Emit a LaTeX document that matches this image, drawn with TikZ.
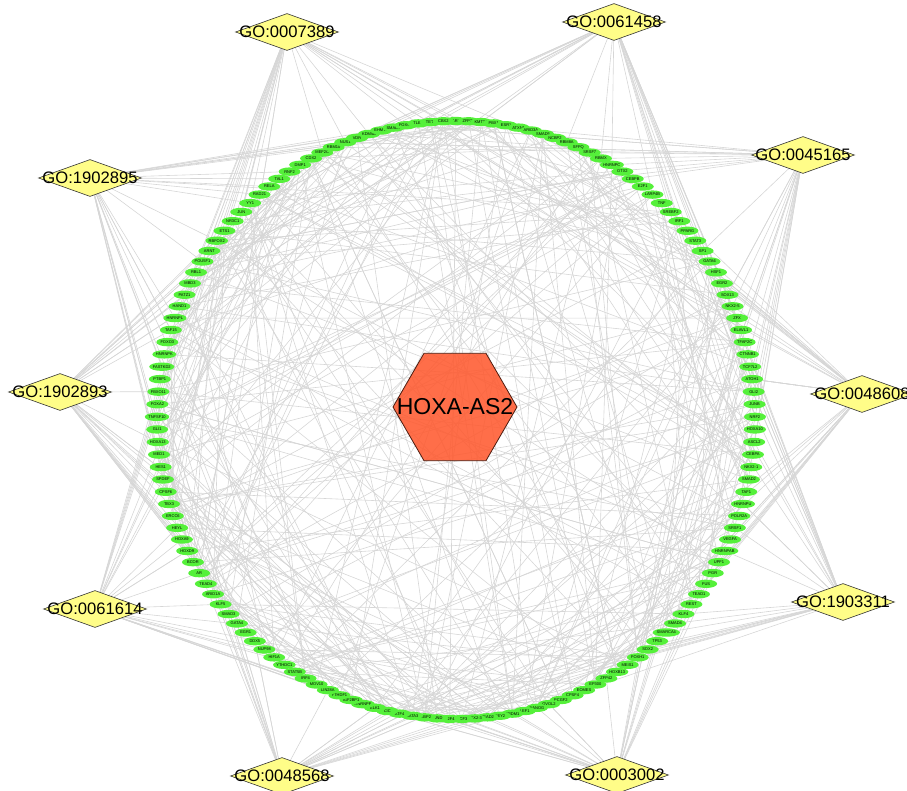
\documentclass[tikz,border=0pt]{standalone}
\usepackage{fontspec}
\setmainfont{Liberation Sans}
\usetikzlibrary{shapes.geometric}
\definecolor{tfgreen}{HTML}{55F03A}
\definecolor{lncred}{HTML}{FF5A30}
\definecolor{goyellow}{HTML}{FFFD88}
\definecolor{linkgray}{HTML}{D6D6D6}
\pgfdeclarelayer{back}
\pgfsetlayers{back,main}
\tikzset{
  tfnode/.style={ellipse, fill=tfgreen, draw=none, inner sep=0pt,
    minimum width=11pt, minimum height=4.2pt, font=\fontsize{2}{2}\selectfont},
  gonode/.style={diamond, fill=goyellow, draw=black!80, line width=0.3pt, inner sep=0pt,
    minimum width=51.5pt, minimum height=18.5pt, font=\fontsize{8.3}{9}\selectfont},
  lncnode/.style={regular polygon, regular polygon sides=6, fill=lncred, fill opacity=0.88,
    text opacity=1, draw=black!70!lncred, line width=0.4pt, inner sep=0pt, minimum size=62pt,
    font=\fontsize{11.5}{13}\selectfont},
  link/.style={draw=linkgray, line width=0.3pt},
}

\begin{document}
\begin{tikzpicture}[x=0.5pt, y=-0.5pt]
\useasboundingbox (0,0) rectangle (907,791);
% ring of transcription factors
\foreach \name [count=\k, evaluate=\k as \ang using -90+(\k-1)*2.416107] in {BARX1,ZFP36,KMT2A,PBX1,ESR1,ATXN1,ARID3A,SMAD5,NCBP2,RBM8A,
  SFPQ,SRSF7,RBMX,HNRNPC,OTX2,CEBPB,E2F1,LARP4B,TNF,SREBF2,IRF1,PPARG,STAT3,SP1,GATA6,
  HSF1,EGR2,SOX13,NKX2-5,ZFX,ELAVL1,TFAP2C,CTNNB1,TCF7L2,ATOH1,GLI2,JUNB,NRF2,HOXA10,
  ASCL2,CEBPA,NKX2-1,SMAD2,TAF1,HNRNPU,POLR2A,SRSF1,VEGFA,HNRNPAB,UPF1,PGR,FUS,TEAD1,
  REST,KLF4,SMAD4,SMARCA4,TP53,SOX2,FOXH1,MEIS1,HOXB13,ZFP42,EP300,EOMES,CPSF4,PCGF2,
  OVOL2,NANOG,LEF1,PRDM1,HEY2,TEAD2,NKX2-3,TCF3,E2F4,JUND,AEBP2,GATA3,ATF4,CIC,ELK1,
  HNRNPF,IGF2BP1,YTHDF1,LIN28A,MOV10,IRF4,STAT5B,YTHDC1,HIF1A,NUP98,DDX5,EGR1,GATA4,
  SMAD3,KLF5,ARID1A,TEAD4,AR,BCOR,HOXD9,HOXA9,HEYL,ERCC6,TBX3,CPSF6,SPDEF,HES1,MED1,
  HOXA13,GLI1,TNFSF10,FOXA2,FBXO11,PTBP1,FASTKD2,HNRNPK,FOXO3,TAF15,HNRNPL,HAND1,PATZ1,
  MBD3,RBL1,POU5F1,ARNT,RBFOX2,ETS1,NR3C1,JUN,YY1,RAD21,RELA,TAL1,RNF2,DMP1,CDX2,MEF2C,
  RBM10,NUS1,VDR,KDM5B,EHMT2,SMAD1,FOXO1,TLE1,TET2,CBX2}
  \node[tfnode] (t\k) at ({456+299*cos(\ang)},{420+299*sin(\ang)}) {\name};

\node[lncnode] (lnc) at (455,407) {\makebox[0pt]{HOXA-AS2}};

% GO terms
\node[gonode] (g1) at (287,32) {\makebox[0pt]{GO:0007389}};
\node[gonode] (g2) at (614,22) {\makebox[0pt]{GO:0061458}};
\node[gonode] (g3) at (803,155) {\makebox[0pt]{GO:0045165}};
\node[gonode] (g4) at (862,394) {\makebox[0pt]{GO:0048608}};
\node[gonode] (g5) at (843,602) {\makebox[0pt]{GO:1903311}};
\node[gonode] (g6) at (617,775) {\makebox[0pt]{GO:0003002}};
\node[gonode] (g7) at (282,776) {\makebox[0pt]{GO:0048568}};
\node[gonode] (g8) at (95,609) {\makebox[0pt]{GO:0061614}};
\node[gonode] (g9) at (60,392) {\makebox[0pt]{GO:1902893}};
\node[gonode] (g10) at (90,178) {\makebox[0pt]{GO:1902895}};

\begin{pgfonlayer}{back}
\pgfmathsetseed{2024}
% GO term -> TF
\foreach \g/\c in {g1/140,g2/10,g3/23,g4/37,g5/49,g6/65,g7/86,g8/101,g9/114,g10/127}
  \foreach \j in {1,...,28} {
    \pgfmathrandominteger{\off}{-42}{42}
    \pgfmathtruncatemacro{\k}{mod(\c+\off+148,149)+1}
    \draw[link] (\g) -- (t\k);
  }
% TF -- TF
\foreach \j in {1,...,270} {
  \pgfmathrandominteger{\a}{1}{149}
  \pgfmathrandominteger{\d}{12}{137}
  \pgfmathtruncatemacro{\b}{mod(\a+\d-1,149)+1}
  \draw[link] (t\a) -- (t\b);
}
\end{pgfonlayer}
\end{tikzpicture}
\end{document}
